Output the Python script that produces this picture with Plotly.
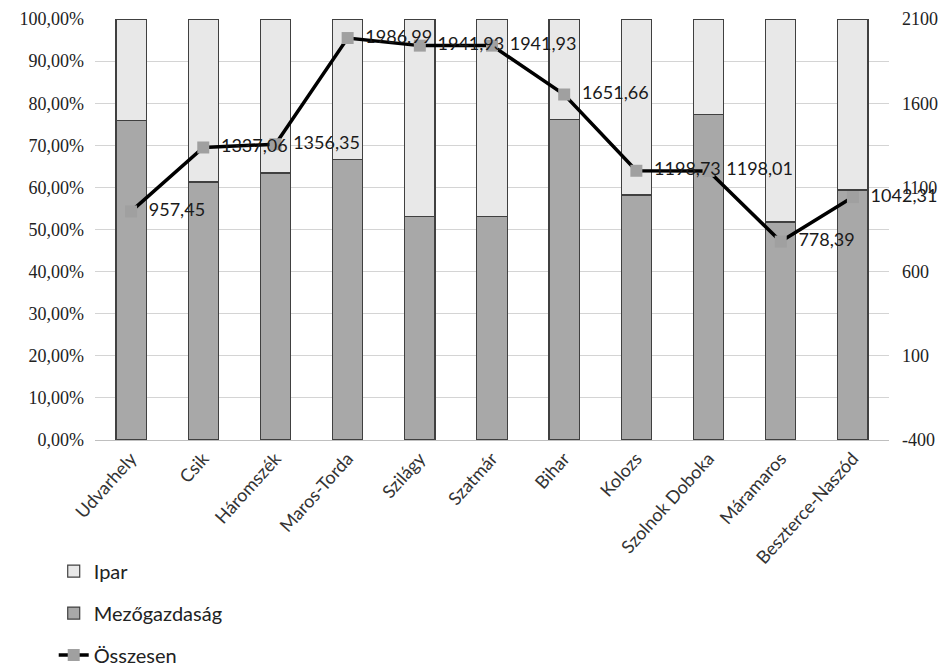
import plotly.graph_objects as go

# Megyék
megyek = ['Udvarhely', 'Csik', 'Háromszék', 'Maros-Torda', 'Szilágy', 'Szatmár',
          'Bihar', 'Kolozs', 'Szolnok Doboka', 'Máramaros', 'Beszterce-Naszód']

# Arányok (0-1)
mezogazdasag = [0.758, 0.613, 0.634, 0.667, 0.530, 0.530, 0.762, 0.582, 0.774, 0.518, 0.594]
ipar = [0.242, 0.387, 0.366, 0.333, 0.470, 0.470, 0.238, 0.418, 0.226, 0.482, 0.406]

# Összesen (jobb tengely)
osszesen = [957.45, 1337.06, 1356.35, 1986.99, 1941.93, 1941.93,
            1651.66, 1198.73, 1198.01, 778.39, 1042.31]

# Jobb tengely feliratai
jobb_tick = [-400, 100, 600, 1100, 1600, 2100]
jobb_tick_szoveg = ['-400', '100', '600', '1100', '1600', '2100']

fig = go.Figure()

fig.add_trace(go.Bar(
    x=megyek, y=mezogazdasag, name='Mezőgazdaság', legendrank=2,
    legendgroup='b', marker=dict(color='#a8a8a8', line=dict(color='#404040', width=1.2)),
))
fig.add_trace(go.Bar(
    x=megyek, y=ipar, name='Ipar', legendrank=1,
    legendgroup='a', marker=dict(color='#e8e8e8', line=dict(color='#404040', width=1.2)),
))
fig.add_trace(go.Scatter(
    x=megyek, y=osszesen, name='Összesen', yaxis='y2', legendrank=3,
    legendgroup='c', mode='lines+markers+text', cliponaxis=False,
    line=dict(color='#000000', width=3.5),
    marker=dict(color='#a0a0a0', size=12, symbol='square'),
    texttemplate='  %{y:.2f}', textposition='middle right',
    textfont=dict(family='Lato', size=18, color='#1a1a1a'),
))

fig.update_layout(
    width=948, height=667,
    margin=dict(l=87, r=67, t=11, b=235, autoexpand=False),
    paper_bgcolor='white', plot_bgcolor='white',
    barmode='stack', bargap=0.58,
    separators=', ',
    font=dict(family='Liberation Serif', size=18, color='#222'),
    xaxis=dict(range=[-0.5, len(megyek) - 0.5], tickangle=-48,
               tickfont=dict(family='Lato', size=18, color='#333'),
               showline=True, linecolor='#bfbfbf', ticks='', automargin=False),
    yaxis=dict(range=[0, 1], dtick=0.1, tickformat='.2%', automargin=False,
               gridcolor='#d4d4d4', zeroline=False, ticks='', ticklabelstandoff=10,
               tickfont=dict(family='Liberation Serif', size=18)),
    yaxis2=dict(range=[-400, 2100], tickvals=jobb_tick, ticktext=jobb_tick_szoveg,
                overlaying='y', side='right', showgrid=False, zeroline=False,
                automargin=False, ticklabelstandoff=12,
                tickfont=dict(family='Liberation Serif', size=18)),
    legend=dict(x=-0.052, y=-0.265, xanchor='left', yanchor='top',
                traceorder='grouped', tracegroupgap=13,
                font=dict(family='Lato', size=20, color='#222')),
)

fig.write_html('out.html')
